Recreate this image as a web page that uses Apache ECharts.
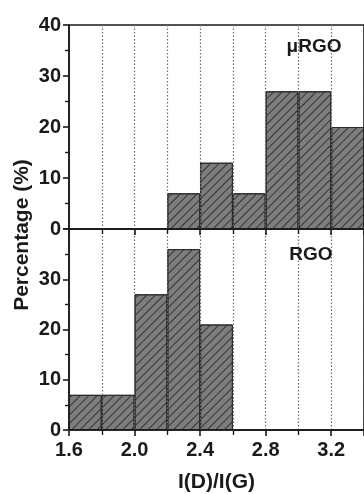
<!DOCTYPE html>
<html>
<head>
<meta charset="utf-8">
<script src="https://cdn.jsdelivr.net/npm/echarts@6/dist/echarts.min.js"></script>
<style>html,body{margin:0;padding:0;background:#fff}#c{width:364px;height:494px}</style>
</head>
<body>
<div id="c"></div>
<script>
// Histogram bins (I(D)/I(G)), left edges 1.6 ... 3.2, width 0.2
const bins = ['1.6-1.8','1.8-2.0','2.0-2.2','2.2-2.4','2.4-2.6','2.6-2.8','2.8-3.0','3.0-3.2','3.2-3.4'];
const muRGO = [0, 0, 0, 7, 13, 7, 27, 27, 20];
const RGO = [7, 7, 27, 36, 21, 0, 0, 0, 0];
const yTopLabels = [0, 10, 20, 30, 40];
const yBottomLabels = [0, 10, 20, 30];

const FONT = "'Liberation Sans', Arial, sans-serif";
const ink = '#1a1a1a';

function valueX(grid, showLabels) {
  return {
    type: 'value', gridIndex: grid, position: 'bottom', min: 1.6, max: 3.4, interval: 0.4, z: 5,
    axisLine: { show: true, onZero: false, lineStyle: { color: ink, width: 1.6 } },
    axisTick: { show: true, inside: false, length: 6, lineStyle: { color: ink, width: 1.6 } },
    minorTick: { show: true, splitNumber: 2, length: 5, lineStyle: { color: ink, width: 1.4 } },
    splitLine: { show: true, lineStyle: { color: '#6a6a6a', type: [1.5, 2], width: 1.2 } },
    minorSplitLine: { show: true, lineStyle: { color: '#6a6a6a', type: [1.5, 2], width: 1.2 } },
    axisLabel: {
      show: showLabels, margin: 10, color: ink, fontFamily: FONT, fontWeight: 'bold', fontSize: 20,
      showMaxLabel: false,
      formatter: v => (v > 3.3 ? '' : v.toFixed(1))
    },
    name: showLabels ? 'I(D)/I(G)' : '', nameLocation: 'middle', nameGap: 42,
    nameTextStyle: { color: ink, fontFamily: FONT, fontWeight: 'bold', fontSize: 21 }
  };
}
function valueY(grid, labels) {
  return {
    type: 'value', gridIndex: grid, min: 0, max: 40, interval: 10, z: 5,
    axisLine: { show: true, onZero: false, lineStyle: { color: ink, width: 1.6 } },
    axisTick: { show: true, inside: false, length: 6, lineStyle: { color: ink, width: 1.6 } },
    minorTick: { show: true, splitNumber: 2, length: 4, lineStyle: { color: ink, width: 1.4 } },
    splitLine: { show: false },
    axisLabel: {
      margin: 8, color: ink, fontFamily: FONT, fontWeight: 'bold', fontSize: 20,
      formatter: v => (labels.indexOf(v) >= 0 ? String(v) : '')
    }
  };
}
function catX(grid) {
  return { type: 'category', gridIndex: grid, position: 'bottom', data: bins, boundaryGap: true, show: false };
}
const barStyle = {
  color: '#7d7d7d', borderColor: '#2a2a2a', borderWidth: 1,
  decal: { symbol: 'rect', symbolSize: 1, color: '#353535', dashArrayX: [1, 0], dashArrayY: [1, 5], rotation: -Math.PI / 4 }
};

const chart = echarts.init(document.getElementById('c'), null, { renderer: 'canvas' });
chart.setOption({
  animation: false,
  backgroundColor: '#fff',
  grid: [
    { left: 69, right: -4, top: 25, height: 204, show: true, borderColor: ink, borderWidth: 1.6, backgroundColor: 'transparent' },
    { left: 69, right: -4, top: 229, height: 204, show: true, borderColor: ink, borderWidth: 1.6, backgroundColor: 'transparent' }
  ],
  xAxis: [catX(0), catX(1), valueX(0, false), valueX(1, true)],
  yAxis: [valueY(0, yTopLabels), valueY(1, yBottomLabels)],
  series: [
    { type: 'bar', xAxisIndex: 0, yAxisIndex: 0, data: muRGO, barWidth: '100%', barGap: '0%', itemStyle: barStyle, silent: true },
    { type: 'bar', xAxisIndex: 1, yAxisIndex: 1, data: RGO, barWidth: '100%', barGap: '0%', itemStyle: barStyle, silent: true }
  ],
  graphic: [
    { type: 'text', x: 22, y: 235, rotation: Math.PI / 2, style: { text: 'Percentage (%)', fill: ink, font: "bold 21px " + FONT, align: 'center', verticalAlign: 'middle' } },
    { type: 'text', x: 314, y: 47, style: { text: 'μRGO', fill: ink, font: "bold 19px " + FONT, align: 'center', verticalAlign: 'middle' }, z: 10 },
    { type: 'text', x: 311, y: 255, style: { text: 'RGO', fill: ink, font: "bold 19px " + FONT, align: 'center', verticalAlign: 'middle' }, z: 10 }
  ]
});
</script>
</body>
</html>
